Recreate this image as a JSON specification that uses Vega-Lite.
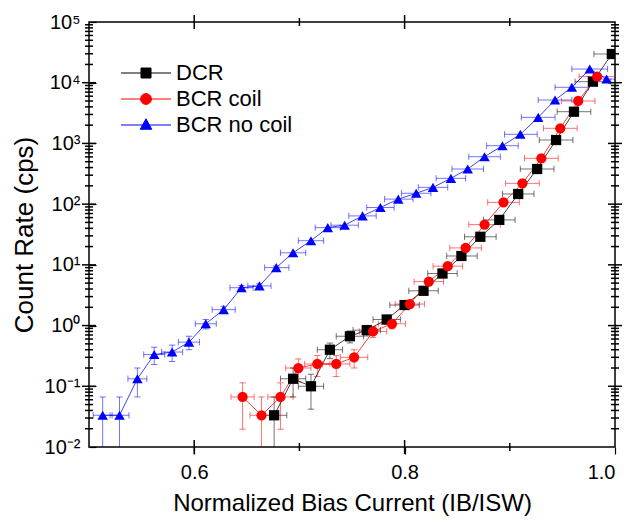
{
  "$schema": "https://vega.github.io/schema/vega-lite/v6.json",
  "width": 526,
  "height": 425,
  "autosize": "none",
  "padding": {"left": 89, "top": 22, "right": 16, "bottom": 78},
  "config": {
    "view": {"stroke": "#000", "strokeWidth": 1.5},
    "font": "Liberation Sans",
    "axis": {"domain": false, "grid": false, "labelFont": "Liberation Sans", "titleFont": "Liberation Sans", "labelFontSize": 20, "titleFontSize": 24, "titleFontWeight": "normal", "labelColor": "#000", "titleColor": "#000", "tickColor": "#000", "tickWidth": 1.2}
  },
  "data": {"values": [
    {"s": "DCR", "x": 0.676, "y": 0.0333, "xlo": 0.665, "xhi": 0.688, "ylo": 0.001, "yhi": 0.0667},
    {"s": "DCR", "x": 0.694, "y": 0.133, "xlo": 0.682, "xhi": 0.706, "ylo": 0.0667, "yhi": 0.2},
    {"s": "DCR", "x": 0.711, "y": 0.1, "xlo": 0.699, "xhi": 0.723, "ylo": 0.042, "yhi": 0.158},
    {"s": "DCR", "x": 0.729, "y": 0.4, "xlo": 0.717, "xhi": 0.741, "ylo": 0.285, "yhi": 0.515},
    {"s": "DCR", "x": 0.748, "y": 0.667, "xlo": 0.735, "xhi": 0.761, "ylo": 0.518, "yhi": 0.816},
    {"s": "DCR", "x": 0.764, "y": 0.84, "xlo": 0.751, "xhi": 0.777, "ylo": 0.673, "yhi": 1.007},
    {"s": "DCR", "x": 0.783, "y": 1.26, "xlo": 0.770, "xhi": 0.796, "ylo": 1.055, "yhi": 1.465},
    {"s": "DCR", "x": 0.800, "y": 2.18, "xlo": 0.786, "xhi": 0.814, "ylo": 1.91, "yhi": 2.45},
    {"s": "DCR", "x": 0.818, "y": 3.74, "xlo": 0.804, "xhi": 0.832, "ylo": 3.39, "yhi": 4.09},
    {"s": "DCR", "x": 0.836, "y": 7.2, "xlo": 0.822, "xhi": 0.850, "ylo": 6.71, "yhi": 7.69},
    {"s": "DCR", "x": 0.854, "y": 14, "xlo": 0.840, "xhi": 0.869},
    {"s": "DCR", "x": 0.872, "y": 29, "xlo": 0.857, "xhi": 0.887},
    {"s": "DCR", "x": 0.890, "y": 55, "xlo": 0.875, "xhi": 0.905},
    {"s": "DCR", "x": 0.908, "y": 147, "xlo": 0.893, "xhi": 0.923},
    {"s": "DCR", "x": 0.926, "y": 379, "xlo": 0.910, "xhi": 0.942},
    {"s": "DCR", "x": 0.944, "y": 1138, "xlo": 0.928, "xhi": 0.960},
    {"s": "DCR", "x": 0.961, "y": 3330, "xlo": 0.945, "xhi": 0.977},
    {"s": "DCR", "x": 0.979, "y": 10400, "xlo": 0.962, "xhi": 0.996},
    {"s": "DCR", "x": 0.997, "y": 29700, "xlo": 0.980, "xhi": 1.014},
    {"s": "BCR coil", "x": 0.646, "y": 0.0667, "xlo": 0.635, "xhi": 0.657, "ylo": 0.0196, "yhi": 0.114},
    {"s": "BCR coil", "x": 0.664, "y": 0.0333, "xlo": 0.653, "xhi": 0.675, "ylo": 0.001, "yhi": 0.0667},
    {"s": "BCR coil", "x": 0.682, "y": 0.0667, "xlo": 0.670, "xhi": 0.694, "ylo": 0.0196, "yhi": 0.114},
    {"s": "BCR coil", "x": 0.699, "y": 0.2, "xlo": 0.687, "xhi": 0.711, "ylo": 0.118, "yhi": 0.282},
    {"s": "BCR coil", "x": 0.717, "y": 0.233, "xlo": 0.705, "xhi": 0.729, "ylo": 0.145, "yhi": 0.321},
    {"s": "BCR coil", "x": 0.735, "y": 0.233, "xlo": 0.722, "xhi": 0.748, "ylo": 0.145, "yhi": 0.321},
    {"s": "BCR coil", "x": 0.752, "y": 0.3, "xlo": 0.739, "xhi": 0.765, "ylo": 0.2, "yhi": 0.4},
    {"s": "BCR coil", "x": 0.770, "y": 0.8, "xlo": 0.757, "xhi": 0.783, "ylo": 0.637, "yhi": 0.963},
    {"s": "BCR coil", "x": 0.788, "y": 1.07, "xlo": 0.775, "xhi": 0.801, "ylo": 0.88, "yhi": 1.26},
    {"s": "BCR coil", "x": 0.805, "y": 2.26, "xlo": 0.791, "xhi": 0.819, "ylo": 1.99, "yhi": 2.53},
    {"s": "BCR coil", "x": 0.823, "y": 5.3, "xlo": 0.809, "xhi": 0.837, "ylo": 4.88, "yhi": 5.72},
    {"s": "BCR coil", "x": 0.841, "y": 9.5, "xlo": 0.827, "xhi": 0.855, "ylo": 8.94, "yhi": 10.06},
    {"s": "BCR coil", "x": 0.858, "y": 19, "xlo": 0.843, "xhi": 0.873},
    {"s": "BCR coil", "x": 0.876, "y": 46, "xlo": 0.861, "xhi": 0.891},
    {"s": "BCR coil", "x": 0.894, "y": 107, "xlo": 0.879, "xhi": 0.909},
    {"s": "BCR coil", "x": 0.912, "y": 220, "xlo": 0.896, "xhi": 0.928},
    {"s": "BCR coil", "x": 0.930, "y": 568, "xlo": 0.914, "xhi": 0.946},
    {"s": "BCR coil", "x": 0.948, "y": 1774, "xlo": 0.932, "xhi": 0.964},
    {"s": "BCR coil", "x": 0.965, "y": 5000, "xlo": 0.949, "xhi": 0.981},
    {"s": "BCR coil", "x": 0.983, "y": 12600, "xlo": 0.966, "xhi": 1.000},
    {"s": "BCR no coil", "x": 0.513, "y": 0.0333, "xlo": 0.504, "xhi": 0.522, "ylo": 0.001, "yhi": 0.0667},
    {"s": "BCR no coil", "x": 0.529, "y": 0.0333, "xlo": 0.520, "xhi": 0.538, "ylo": 0.001, "yhi": 0.0667},
    {"s": "BCR no coil", "x": 0.546, "y": 0.133, "xlo": 0.537, "xhi": 0.555, "ylo": 0.0667, "yhi": 0.2},
    {"s": "BCR no coil", "x": 0.562, "y": 0.333, "xlo": 0.552, "xhi": 0.572, "ylo": 0.228, "yhi": 0.439},
    {"s": "BCR no coil", "x": 0.579, "y": 0.367, "xlo": 0.569, "xhi": 0.589, "ylo": 0.256, "yhi": 0.477},
    {"s": "BCR no coil", "x": 0.595, "y": 0.533, "xlo": 0.585, "xhi": 0.605, "ylo": 0.4, "yhi": 0.667},
    {"s": "BCR no coil", "x": 0.611, "y": 1.07, "xlo": 0.601, "xhi": 0.621, "ylo": 0.88, "yhi": 1.26},
    {"s": "BCR no coil", "x": 0.628, "y": 1.83, "xlo": 0.617, "xhi": 0.639, "ylo": 1.58, "yhi": 2.08},
    {"s": "BCR no coil", "x": 0.645, "y": 4.2, "xlo": 0.634, "xhi": 0.656, "ylo": 3.83, "yhi": 4.57},
    {"s": "BCR no coil", "x": 0.662, "y": 4.5, "xlo": 0.651, "xhi": 0.673, "ylo": 4.11, "yhi": 4.89},
    {"s": "BCR no coil", "x": 0.678, "y": 9.0, "xlo": 0.667, "xhi": 0.690, "ylo": 8.45, "yhi": 9.55},
    {"s": "BCR no coil", "x": 0.694, "y": 15.8, "xlo": 0.682, "xhi": 0.706},
    {"s": "BCR no coil", "x": 0.711, "y": 25, "xlo": 0.699, "xhi": 0.723},
    {"s": "BCR no coil", "x": 0.727, "y": 41, "xlo": 0.715, "xhi": 0.739},
    {"s": "BCR no coil", "x": 0.743, "y": 45, "xlo": 0.730, "xhi": 0.756},
    {"s": "BCR no coil", "x": 0.760, "y": 64, "xlo": 0.747, "xhi": 0.773},
    {"s": "BCR no coil", "x": 0.777, "y": 88, "xlo": 0.764, "xhi": 0.790},
    {"s": "BCR no coil", "x": 0.794, "y": 121, "xlo": 0.781, "xhi": 0.808},
    {"s": "BCR no coil", "x": 0.811, "y": 151, "xlo": 0.797, "xhi": 0.825},
    {"s": "BCR no coil", "x": 0.827, "y": 189, "xlo": 0.813, "xhi": 0.841},
    {"s": "BCR no coil", "x": 0.844, "y": 266, "xlo": 0.830, "xhi": 0.858},
    {"s": "BCR no coil", "x": 0.860, "y": 379, "xlo": 0.845, "xhi": 0.875},
    {"s": "BCR no coil", "x": 0.876, "y": 604, "xlo": 0.861, "xhi": 0.891},
    {"s": "BCR no coil", "x": 0.893, "y": 917, "xlo": 0.878, "xhi": 0.908},
    {"s": "BCR no coil", "x": 0.910, "y": 1413, "xlo": 0.895, "xhi": 0.926},
    {"s": "BCR no coil", "x": 0.927, "y": 2690, "xlo": 0.911, "xhi": 0.943},
    {"s": "BCR no coil", "x": 0.943, "y": 5190, "xlo": 0.927, "xhi": 0.959},
    {"s": "BCR no coil", "x": 0.959, "y": 8400, "xlo": 0.943, "xhi": 0.975},
    {"s": "BCR no coil", "x": 0.976, "y": 16800, "xlo": 0.959, "xhi": 0.993},
    {"s": "BCR no coil", "x": 0.992, "y": 11500, "xlo": 0.975, "xhi": 1.009}
  ]},
  "layer": [
    {
      "mark": {"type": "rule", "clip": true, "strokeWidth": 1},
      "encoding": {
        "x": {"field": "xlo", "type": "quantitative", "scale": {"type": "linear", "domain": [0.5, 1.0], "nice": false, "zero": false},
          "axis": {"orient": "bottom", "values": [0.6, 0.8, 1.0], "format": ".1f", "ticks": true, "tickSize": 7, "labelPadding": 8, "title": "Normalized Bias Current (IB/ISW)", "titlePadding": 9}},
        "x2": {"field": "xhi"},
        "y": {"field": "y", "type": "quantitative", "scale": {"type": "log", "domain": [0.01, 100000], "nice": false},
          "axis": {"orient": "left", "values": [0.01, 0.1, 1, 10, 100, 1000, 10000, 100000],
            "labelExpr": "datum.value < 0.05 ? '10⁻²' : datum.value < 0.5 ? '10⁻¹' : datum.value < 5 ? '10⁰' : datum.value < 50 ? '10¹' : datum.value < 500 ? '10²' : datum.value < 5000 ? '10³' : datum.value < 50000 ? '10⁴' : '10⁵'",
            "ticks": true, "tickSize": -7, "labelPadding": 16, "title": "Count Rate (cps)", "titleFontSize": 26, "titlePadding": 7}},
        "color": {"field": "s", "type": "nominal", "scale": {"domain": ["DCR", "BCR coil", "BCR no coil"], "range": ["#000000", "#ff0000", "#0000ff"]},
          "legend": {"orient": "none", "legendX": 46, "legendY": 40, "title": null, "padding": 0, "labelFontSize": 22, "labelFont": "Liberation Sans", "labelColor": "#000", "labelOffset": 19, "rowPadding": 4, "symbolSize": 100, "symbolOpacity": 1, "symbolStrokeWidth": 1,
            "encode": {"symbols": {"update": {
              "shape": {"signal": "datum.value == 'DCR' ? 'M-5,0H5M-1,-1H1V1H-1Z' : datum.value == 'BCR coil' ? 'M-5,0H5M1.1,0L0.953,0.55L0.55,0.953L0,1.1L-0.55,0.953L-0.953,0.55L-1.1,0L-0.953,-0.55L-0.55,-0.953L0,-1.1L0.55,-0.953L0.953,-0.55Z' : 'M-5,0H5M0,-1.25L1.15,0.85L-1.15,0.85Z'"},
              "stroke": {"signal": "datum.value == 'DCR' ? '#666666' : datum.value == 'BCR coil' ? '#ff6060' : '#5050ff'"},
              "strokeWidth": {"value": 1},
              "opacity": {"value": 1}
            }}}}},
        "opacity": {"value": 0.55}
      }
    },
    {
      "data": {"values": [
        {"v": 0.6, "k": "major"}, {"v": 0.7, "k": "minor"}, {"v": 0.8, "k": "major"}, {"v": 0.9, "k": "minor"}
      ]},
      "layer": [
        {
          "mark": {"type": "tick", "orient": "vertical", "thickness": 1.5, "color": "#000", "opacity": 1},
          "encoding": {
            "x": {"field": "v", "type": "quantitative", "axis": null},
            "y": {"datum": 0.01, "type": "quantitative", "axis": null},
            "size": {"field": "k", "type": "nominal", "scale": {"domain": ["major", "minor"], "range": [14, 8]}, "legend": null}
          }
        },
        {
          "mark": {"type": "tick", "orient": "vertical", "thickness": 1.5, "color": "#000", "opacity": 1},
          "encoding": {
            "x": {"field": "v", "type": "quantitative", "axis": null},
            "y": {"datum": 100000, "type": "quantitative", "axis": null},
            "size": {"field": "k", "type": "nominal", "legend": null}
          }
        }
      ]
    },
    {
      "data": {"values": [
        {"v": 0.02, "k": "minor"}, {"v": 0.03, "k": "minor"}, {"v": 0.04, "k": "minor"}, {"v": 0.05, "k": "minor"}, {"v": 0.06, "k": "minor"}, {"v": 0.07, "k": "minor"}, {"v": 0.08, "k": "minor"}, {"v": 0.09, "k": "minor"},
        {"v": 0.1, "k": "major"}, {"v": 0.2, "k": "minor"}, {"v": 0.3, "k": "minor"}, {"v": 0.4, "k": "minor"}, {"v": 0.5, "k": "minor"}, {"v": 0.6, "k": "minor"}, {"v": 0.7, "k": "minor"}, {"v": 0.8, "k": "minor"}, {"v": 0.9, "k": "minor"},
        {"v": 1, "k": "major"}, {"v": 2, "k": "minor"}, {"v": 3, "k": "minor"}, {"v": 4, "k": "minor"}, {"v": 5, "k": "minor"}, {"v": 6, "k": "minor"}, {"v": 7, "k": "minor"}, {"v": 8, "k": "minor"}, {"v": 9, "k": "minor"},
        {"v": 10, "k": "major"}, {"v": 20, "k": "minor"}, {"v": 30, "k": "minor"}, {"v": 40, "k": "minor"}, {"v": 50, "k": "minor"}, {"v": 60, "k": "minor"}, {"v": 70, "k": "minor"}, {"v": 80, "k": "minor"}, {"v": 90, "k": "minor"},
        {"v": 100, "k": "major"}, {"v": 200, "k": "minor"}, {"v": 300, "k": "minor"}, {"v": 400, "k": "minor"}, {"v": 500, "k": "minor"}, {"v": 600, "k": "minor"}, {"v": 700, "k": "minor"}, {"v": 800, "k": "minor"}, {"v": 900, "k": "minor"},
        {"v": 1000, "k": "major"}, {"v": 2000, "k": "minor"}, {"v": 3000, "k": "minor"}, {"v": 4000, "k": "minor"}, {"v": 5000, "k": "minor"}, {"v": 6000, "k": "minor"}, {"v": 7000, "k": "minor"}, {"v": 8000, "k": "minor"}, {"v": 9000, "k": "minor"},
        {"v": 10000, "k": "major"}, {"v": 20000, "k": "minor"}, {"v": 30000, "k": "minor"}, {"v": 40000, "k": "minor"}, {"v": 50000, "k": "minor"}, {"v": 60000, "k": "minor"}, {"v": 70000, "k": "minor"}, {"v": 80000, "k": "minor"}, {"v": 90000, "k": "minor"}
      ]},
      "layer": [
        {
          "mark": {"type": "tick", "orient": "horizontal", "thickness": 1.5, "color": "#000", "opacity": 1},
          "encoding": {
            "y": {"field": "v", "type": "quantitative", "axis": null},
            "x": {"datum": 0.5, "type": "quantitative", "axis": null},
            "size": {"field": "k", "type": "nominal", "legend": null}
          }
        },
        {
          "mark": {"type": "tick", "orient": "horizontal", "thickness": 1.5, "color": "#000", "opacity": 1},
          "encoding": {
            "y": {"field": "v", "type": "quantitative", "axis": null},
            "x": {"datum": 1.0, "type": "quantitative", "axis": null},
            "size": {"field": "k", "type": "nominal", "legend": null}
          }
        }
      ]
    },
    {
      "transform": [{"fold": ["xlo", "xhi"], "as": ["k", "xv"]}],
      "mark": {"type": "point", "shape": "M0,-1L0,1", "filled": false, "clip": true, "strokeWidth": 1, "size": 40},
      "encoding": {
        "x": {"field": "xv", "type": "quantitative", "axis": null},
        "y": {"field": "y", "type": "quantitative", "axis": null},
        "color": {"field": "s", "type": "nominal"},
        "opacity": {"value": 0.55}
      }
    },
    {
      "transform": [{"filter": "isValid(datum.ylo)"}],
      "mark": {"type": "rule", "clip": true, "strokeWidth": 1},
      "encoding": {
        "x": {"field": "x", "type": "quantitative", "axis": null},
        "y": {"field": "ylo", "type": "quantitative", "axis": null},
        "y2": {"field": "yhi"},
        "color": {"field": "s", "type": "nominal"},
        "opacity": {"value": 0.55}
      }
    },
    {
      "transform": [{"filter": "isValid(datum.ylo)"}, {"fold": ["ylo", "yhi"], "as": ["k", "yv"]}],
      "mark": {"type": "point", "shape": "M-1,0L1,0", "filled": false, "clip": true, "strokeWidth": 1, "size": 40},
      "encoding": {
        "x": {"field": "x", "type": "quantitative", "axis": null},
        "y": {"field": "yv", "type": "quantitative", "axis": null},
        "color": {"field": "s", "type": "nominal"},
        "opacity": {"value": 0.55}
      }
    },
    {
      "mark": {"type": "line", "strokeWidth": 1, "clip": true},
      "encoding": {
        "x": {"field": "x", "type": "quantitative", "axis": null},
        "y": {"field": "y", "type": "quantitative", "axis": null},
        "color": {"field": "s", "type": "nominal"},
        "order": {"field": "x", "type": "quantitative"},
        "opacity": {"value": 0.75}
      }
    },
    {
      "transform": [{"filter": "datum.s == 'DCR'"}],
      "mark": {"type": "point", "shape": "square", "filled": true, "size": 105, "opacity": 1, "clip": true},
      "encoding": {
        "x": {"field": "x", "type": "quantitative", "axis": null},
        "y": {"field": "y", "type": "quantitative", "axis": null},
        "color": {"field": "s", "type": "nominal"}
      }
    },
    {
      "transform": [{"filter": "datum.s == 'BCR coil'"}],
      "mark": {"type": "point", "shape": "circle", "filled": true, "size": 105, "opacity": 1, "clip": true},
      "encoding": {
        "x": {"field": "x", "type": "quantitative", "axis": null},
        "y": {"field": "y", "type": "quantitative", "axis": null},
        "color": {"field": "s", "type": "nominal"}
      }
    },
    {
      "transform": [{"filter": "datum.s == 'BCR no coil'"}],
      "mark": {"type": "point", "shape": "triangle-up", "filled": true, "size": 110, "opacity": 1, "clip": true},
      "encoding": {
        "x": {"field": "x", "type": "quantitative", "axis": null},
        "y": {"field": "y", "type": "quantitative", "axis": null},
        "color": {"field": "s", "type": "nominal"}
      }
    }
  ],
  "resolve": {"axis": {"x": "independent", "y": "independent"}}
}
